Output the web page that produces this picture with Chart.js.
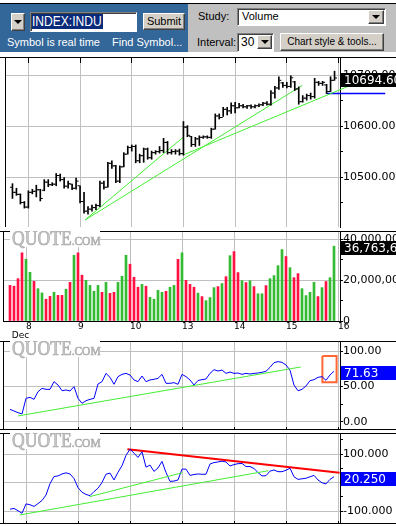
<!DOCTYPE html>
<html><head><meta charset="utf-8">
<script src="https://cdn.jsdelivr.net/npm/chart.js@4.4.1/dist/chart.umd.min.js"></script>
<style>
body{margin:0;background:#fff;width:396px;height:526px;overflow:hidden;position:relative;font-family:"Liberation Sans",Arial,sans-serif;}
.a{position:absolute;box-sizing:border-box;}
canvas{position:absolute;left:0;}
.bev{background:#d4d0c8;border-top:1px solid #fff;border-left:1px solid #fff;border-right:1px solid #404040;border-bottom:1px solid #404040;box-shadow:inset -1px -1px 0 #808080;}
.ins{background:#fff;border-top:1px solid #808080;border-left:1px solid #808080;border-right:1px solid #fff;border-bottom:1px solid #fff;box-shadow:inset 1px 1px 0 #404040;}
.tri{position:absolute;left:50%;top:50%;width:0;height:0;margin-left:-4px;margin-top:-2px;border-left:4px solid transparent;border-right:4px solid transparent;border-top:4px solid #000;}
.t{font-size:11px;line-height:13px;white-space:nowrap;}
</style></head><body>
<div class="a" style="left:0;top:3px;width:396px;height:1px;background:#000"></div>
<div class="a" style="left:0;top:4px;width:188px;height:48px;background:#336699"></div>
<div class="a" style="left:188px;top:4px;width:208px;height:48px;background:#c0c0c0"></div>
<div class="a bev" style="left:11px;top:13px;width:14px;height:18px"><div class="tri"></div></div>
<div class="a ins" style="left:30px;top:12px;width:107px;height:20px"></div>
<div class="a" style="left:32px;top:14px;width:71px;height:15px;background:#0a2a7a"></div>
<div class="a" style="left:32px;top:14px;height:15px;line-height:15px;font-size:14px;color:#fff;transform:scaleX(0.86);transform-origin:0 0;white-space:nowrap">INDEX:INDU</div>
<div class="a bev t" style="left:143px;top:13px;width:42px;height:17px;text-align:center;line-height:15px;color:#000">Submit</div>
<div class="a t" style="left:7px;top:36px;color:#fff">Symbol is real time</div>
<div class="a t" style="left:112px;top:36px;color:#fff">Find Symbol...</div>
<div class="a t" style="left:198px;top:10px;color:#000">Study:</div>
<div class="a ins t" style="left:237px;top:8px;width:149px;height:18px;padding-left:4px;line-height:15px">Volume</div>
<div class="a bev" style="left:368px;top:10px;width:16px;height:14px"><div class="tri"></div></div>
<div class="a t" style="left:197px;top:36px;color:#000">Interval:</div>
<div class="a ins t" style="left:237px;top:33px;width:37px;height:19px;padding-left:3px;line-height:16px;font-size:12px">30</div>
<div class="a bev" style="left:257px;top:35px;width:15px;height:14px"><div class="tri"></div></div>
<div class="a bev t" style="left:280px;top:33px;width:104px;height:18px;text-align:center;line-height:16px;font-size:10px;color:#000">Chart style &amp; tools...</div>

<canvas id="cPrice" width="396" height="180" style="top:52px"></canvas>
<canvas id="cVol" width="396" height="110" style="top:231px"></canvas>
<canvas id="cRsi" width="396" height="89" style="top:341px"></canvas>
<canvas id="cCci" width="396" height="91" style="top:433px"></canvas>
<script>
// ---------- data ----------
const dayTicks = [4, 17, 30, 43, 56, 69, 82];
const dayLabels = ['8', '9', '10', '13', '14', '15', '16'];
const monthLabel = 'Dec';

const priceOpen = [10480,10470,10466,10450,10441,10470,10472,10475,10474,10490,
  10485,10486,10503,10495,10482,10486,10478,10483,10452,10433,
  10437,10440,10444,10488,10480,10527,10522,10492,10520,10545,
  10558,10560,10532,10542,10555,10538,10548,10550,10552,10568,
  10548,10550,10551,10546,10598,10580,10564,10575,10578,10579,
  10578,10594,10620,10617,10633,10630,10640,10636,10640,10638,
  10640,10638,10640,10642,10645,10643,10665,10675,10685,10680,
  10678,10687,10673,10648,10655,10660,10658,10686,10684,10681,
  10668,10690];
const priceHigh = [10487,10478,10467,10452,10473,10476,10484,10476,10495,10495,
  10489,10507,10506,10499,10492,10486,10498,10483,10470,10442,
  10445,10447,10492,10492,10529,10532,10523,10522,10548,10561,
  10563,10563,10545,10557,10557,10551,10552,10560,10576,10570,
  10554,10554,10555,10609,10601,10580,10578,10581,10581,10581,
  10596,10624,10624,10637,10637,10646,10647,10645,10643,10641,
  10642,10642,10644,10647,10648,10670,10678,10697,10686,10686,
  10699,10688,10677,10660,10663,10665,10694,10688,10688,10682,
  10697,10708];
const priceLow = [10458,10464,10447,10439,10439,10467,10461,10453,10473,10481,
  10483,10483,10492,10478,10478,10475,10476,10449,10429,10427,
  10433,10436,10442,10476,10480,10517,10489,10489,10520,10545,
  10551,10528,10528,10529,10535,10535,10545,10547,10548,10545,
  10545,10545,10543,10543,10579,10560,10560,10562,10576,10576,
  10576,10594,10614,10619,10622,10625,10626,10636,10636,10635,
  10635,10636,10638,10640,10641,10641,10655,10672,10676,10675,
  10676,10670,10643,10647,10651,10653,10655,10680,10680,10664,
  10668,10690];
const priceClose = [10470,10466,10450,10441,10470,10472,10475,10458,10490,10485,
  10486,10503,10495,10482,10487,10478,10492,10452,10433,10437,
  10440,10444,10488,10480,10527,10522,10492,10520,10545,10558,
  10560,10532,10542,10555,10538,10548,10550,10552,10568,10548,
  10550,10551,10546,10598,10582,10564,10575,10578,10579,10578,
  10594,10620,10617,10633,10630,10640,10636,10640,10638,10640,
  10638,10640,10642,10645,10643,10665,10675,10690,10680,10678,
  10695,10673,10648,10655,10660,10658,10686,10684,10686,10668,
  10690,10694.6];
const priceTicks = [10450, 10500, 10550, 10600, 10650, 10700];

// volume in millions of shares; 'u' = green bar, 'd' = red bar
const volume = [17.5,17.1,20.8,33.5,30.3,23.9,19.5,15.9,13.8,10.7,
  12.1,14.1,12.6,12.6,15.6,19.0,32.3,33.5,22.5,20.0,
  17.5,14.6,17.5,14.1,19.0,13.6,14.1,19.0,22.0,32.3,
  27.9,21.5,16.6,18.0,17.1,11.6,10.7,15.1,14.1,14.6,
  16.6,17.5,30.3,33.5,20.0,18.0,16.6,13.7,12.0,10.0,
  11.5,16.4,16.9,18.4,21.8,32.1,34.1,23.8,19.8,18.9,
  19.8,16.9,13.4,13.4,17.4,20.8,22.3,27.2,35.1,31.7,
  26.2,21.3,23.3,15.9,12.5,14.1,19.0,12.0,16.4,19.4,
  21.3,36.7636];
const volumeDir = ['d','d','d','d','u','u','d','u','u','d',
  'd','u','d','d','u','d','u','d','d','u',
  'u','u','u','d','u','d','d','u','u','u',
  'd','d','d','u','d','u','u','u','u','d',
  'u','u','d','u','d','d','d','u','d','u',
  'u','u','d','u','d','u','d','d','u','d',
  'u','d','u','u','d','u','u','u','u','d',
  'u','d','d','u','u','u','u','d','u','d',
  'u','u'];
const volumeTicks = [0, 10, 20, 30, 40];

const rsi = [17.8,15.5,13.1,11.3,33.3,34.7,31.9,42.7,47.4,46.0,
  46.0,56.8,52.1,44.1,45.1,43.7,49.8,33.3,26.3,30.0,
  31.9,33.3,53.5,56.8,68.5,62.9,53.1,63.9,67.1,68.5,
  66.2,59.2,56.8,64.8,56.8,59.2,60.1,61.5,67.1,54.5,
  54.5,55.4,53.1,67.1,63.9,59.2,52.1,58.5,59.6,60.6,
  68.5,73.7,71.8,73.2,68.5,70.4,68.5,69.0,67.1,68.5,
  67.6,68.5,69.0,70.0,71.4,77.0,83.6,85.0,84.0,80.3,
  73.0,52.0,44.0,46.0,50.7,58.2,59.6,62.9,63.9,58.7,
  66.2,71.63];
const rsiTicks = [0, 25, 50, 75, 100];

const cci = [-93.6,-91,-99,-108,-75,-78,-84,-74,-63,-44,
  -4,21,23,30,34,30,14,-18,-34,-42,
  -46,-32,-20,0,29,33,9,36,59,95,
  117,103,88,108,54,61,39,51,74,35,
  4,5,9,47,47,25,28,30,29,29,
  65,70,72,75,72,58,63,66,67,56,
  56,49,35,23,24,40,44,38,38,43,
  50,20,11,13,15,20,25,9,-1,-5,
  11,20.25];
const cciTicks = [-100, -50, 0, 50, 100, 150];

// drawn studies (bar index, value)
const priceTrendA = [[18.25, 10415.6], [72.9, 10680.1]];
const priceTrendB = [[18.25, 10415.6], [42.85, 10577.7]];
const priceTrendC = [[43.0, 10543.6], [86.9, 10686.2]];
const priceLevel = [[79.1, 10663.9], [93.75, 10663.9]];
const rsiTrend = [[2.0, 8.5], [72.7, 77.5]];
const rsiMarker = [[78.1, 93], [81.65, 93], [81.65, 55.9], [78.1, 55.9], [78.1, 93]];
const cciTrendRed = [[29.35, 116.5], [82.4, 34.0]];
const cciTrendG1 = [[2.4, -114], [64.6, 41.4]];
const cciTrendG2 = [[19.9, -49.8], [43.1, 34.4]];

// ---------- chart helpers ----------
const GRID = '#c0c0c0';
const idx = priceClose.map((_, i) => i);
const pts = arr => arr.map(p => ({x: p[0], y: p[1]}));
const FONT = {family: '"DejaVu Sans", Verdana, sans-serif', size: 11};

function xAxis(withLabels, xmin) {
  const tickVals = withLabels ? [0.425].concat(dayTicks) : dayTicks.slice();
  return {
    type: 'linear', min: xmin, max: xmin + 84.25, offset: false,
    afterBuildTicks: s => { s.ticks = tickVals.map(v => ({value: v})); },
    afterFit: s => { s.height = withLabels ? 20 : 0; s.paddingLeft = 0; s.paddingRight = 0; },
    grid: {offset: false, drawTicks: false,
      color: c => (c.tick && dayTicks.includes(c.tick.value)) ? GRID : 'rgba(0,0,0,0)'},
    border: {display: withLabels, color: '#000'},
    ticks: withLabels ? {
      display: true, autoSkip: false, maxRotation: 0, align: 'start', padding: 1, color: '#000',
      font: {family: '"DejaVu Sans", Verdana, sans-serif', size: 9, lineHeight: 1},
      callback: v => {
        const k = dayTicks.indexOf(v);
        return k >= 0 ? dayLabels[k] : ['', monthLabel];
      }
    } : {display: false}
  };
}
function yAxis(min, max, tickVals, isMajor, fmt) {
  return {
    position: 'right', min, max,
    afterBuildTicks: s => { s.ticks = tickVals.map(v => ({value: v})); },
    afterFit: s => { s.width = 56; s.paddingTop = 0; s.paddingBottom = 0; },
    grid: {drawTicks: true, tickLength: 3, tickColor: '#000',
      color: c => (c.tick && isMajor(c.tick.value)) ? GRID : 'rgba(0,0,0,0)'},
    border: {display: true, color: '#000', width: 1},
    ticks: {autoSkip: false, padding: 0, color: '#000', font: FONT,
      callback: v => isMajor(v) ? fmt(v) : ''}
  };
}

const framePlugin = {
  id: 'frame',
  afterDraw(chart, args, o) {
    const {ctx, chartArea: a} = chart;
    ctx.save();
    ctx.strokeStyle = '#000'; ctx.lineWidth = 1;
    ctx.beginPath();
    ctx.moveTo(0, a.top + 0.5); ctx.lineTo(chart.width, a.top + 0.5);
    if (o.bottom) { ctx.moveTo(0, a.bottom - 0.5); ctx.lineTo(chart.width, a.bottom - 0.5); }
    ctx.moveTo(a.left + 0.5, a.top); ctx.lineTo(a.left + 0.5, a.bottom);
    const xs = chart.scales.x;
    if (o.topTicks) dayTicks.forEach(v => { const px = Math.round(xs.getPixelForValue(v) - 0.5) + 0.5; ctx.moveTo(px, a.top); ctx.lineTo(px, a.top + 6); });
    if (o.bottomTicks) dayTicks.forEach(v => { const px = Math.round(xs.getPixelForValue(v) - 0.5) + 0.5; ctx.moveTo(px, a.bottom); ctx.lineTo(px, a.bottom - 3); });
    ctx.stroke();
    if (o.mark) {
      ctx.fillStyle = '#fff'; ctx.fillRect(10, a.top, 90, 16);
      ctx.translate(12, a.top + 14); ctx.scale(0.88, 1);
      ctx.fillStyle = '#c8c8c8'; ctx.strokeStyle = '#a9a9a9'; ctx.lineWidth = 0.7;
      ctx.font = '20px "Liberation Serif", serif';
      ctx.fillText('QUOTE', 0, 0); ctx.strokeText('QUOTE', 0, 0);
      const w = ctx.measureText('QUOTE').width;
      ctx.font = '13px "Liberation Serif", serif';
      ctx.fillText('.COM', w, 0); ctx.strokeText('.COM', w, 0);
    }
    ctx.restore();
  }
};
const boxPlugin = {
  id: 'lastBox',
  afterDraw(chart, args, o) {
    if (!o.text) return;
    const {ctx} = chart;
    const y = chart.scales.y.getPixelForValue(o.value);
    ctx.save();
    ctx.fillStyle = o.bg;
    ctx.fillRect(341, Math.round(y - 5), chart.width - 341, 14);
    ctx.fillStyle = '#fff';
    ctx.font = '12px "DejaVu Sans", Verdana, sans-serif';
    ctx.textBaseline = 'middle'; ctx.textAlign = 'left';
    ctx.fillText(o.text, 344, Math.round(y - 5) + 7.5);
    ctx.restore();
  }
};
const common = (extra) => Object.assign({
  responsive: false, animation: false, events: [],
  layout: {padding: {left: 3, right: 0, top: 0, bottom: 0}},
}, extra);
const basePlugins = o => Object.assign({legend: {display: false}, tooltip: {enabled: false}}, o);
const lineDs = (data, color, width, extra) => Object.assign({type: 'line', data: pts(data), borderColor: color, borderWidth: width,
  pointRadius: 0, fill: false, tension: 0, clip: false}, extra || {});
const tickDs = (offset, values) => ({type: 'line', data: idx.map(i => ({x: i + offset, y: values[i]})), showLine: false,
  pointStyle: 'line', pointRadius: 1, pointBorderWidth: 1, pointBorderColor: '#000', pointBackgroundColor: '#000'});

// ---------- price ----------
new Chart(document.getElementById('cPrice'), {
  type: 'bar',
  data: {datasets: [
    {type: 'bar', data: idx.map(i => ({x: i, y: [priceLow[i], priceHigh[i]]})), backgroundColor: '#000', barThickness: 1, grouped: false},
    tickDs(-0.375, priceOpen),
    tickDs(0.375, priceClose),
    lineDs(priceTrendA, '#44ee33', 1),
    lineDs(priceTrendB, '#44ee33', 1),
    lineDs(priceTrendC, '#44ee33', 1),
    lineDs(priceLevel, '#0000ff', 1.5)
  ]},
  options: common({
    scales: {x: xAxis(false, -1.875), y: yAxis(10401.9, 10735.8, priceTicks, v => v % 100 === 0, v => v.toFixed(2))},
    plugins: basePlugins({frame: {topTicks: true}, lastBox: {value: priceClose[priceClose.length - 1], text: priceClose[priceClose.length - 1].toFixed(2), bg: '#000'}})
  }),
  plugins: [framePlugin, boxPlugin]
});

// ---------- volume ----------
const fmtVol = v => Math.round(v * 1e6).toLocaleString('en-US');
new Chart(document.getElementById('cVol'), {
  type: 'bar',
  data: {datasets: [
    {data: idx.map(i => ({x: i, y: volume[i]})), barThickness: 2, grouped: false,
      backgroundColor: volumeDir.map(d => d === 'u' ? '#33bb33' : '#ff1144')}
  ]},
  options: common({
    scales: {x: xAxis(true, -1.75), y: yAxis(0, 44.23, volumeTicks, v => v % 20 === 0, fmtVol)},
    plugins: basePlugins({frame: {mark: true}, lastBox: {value: volume[volume.length - 1], text: fmtVol(volume[volume.length - 1]), bg: '#000'}})
  }),
  plugins: [framePlugin, boxPlugin]
});

// ---------- RSI ----------
new Chart(document.getElementById('cRsi'), {
  type: 'line',
  data: {datasets: [
    lineDs(rsiTrend, '#44ee33', 1),
    {data: idx.map(i => ({x: i, y: rsi[i]})), borderColor: '#0000ff', borderWidth: 1, pointRadius: 0, tension: 0},
    lineDs(rsiMarker, '#ff6633', 2)
  ]},
  options: common({
    scales: {x: xAxis(false, -1.75), y: yAxis(-11.3, 114.1, rsiTicks, v => v % 50 === 0, v => v.toFixed(2))},
    plugins: basePlugins({frame: {mark: true, bottom: true, bottomTicks: true}, lastBox: {value: rsi[rsi.length - 1], text: rsi[rsi.length - 1].toFixed(2), bg: '#0000ff'}})
  }),
  plugins: [framePlugin, boxPlugin]
});

// ---------- CCI ----------
new Chart(document.getElementById('cCci'), {
  type: 'line',
  data: {datasets: [
    lineDs(cciTrendG1, '#44ee33', 1),
    lineDs(cciTrendG2, '#44ee33', 1),
    {data: idx.map(i => ({x: i, y: cci[i]})), borderColor: '#0000ff', borderWidth: 1, pointRadius: 0, tension: 0},
    lineDs(cciTrendRed, '#ff0000', 2)
  ]},
  options: common({
    scales: {x: xAxis(false, -1.75), y: yAxis(-145.6, 173.7, cciTicks, v => v % 100 === 0, v => v.toFixed(3))},
    plugins: basePlugins({frame: {mark: true, bottom: true, bottomTicks: true}, lastBox: {value: cci[cci.length - 1], text: cci[cci.length - 1].toFixed(3), bg: '#0000ff'}})
  }),
  plugins: [framePlugin, boxPlugin]
});
</script>
</body></html>
